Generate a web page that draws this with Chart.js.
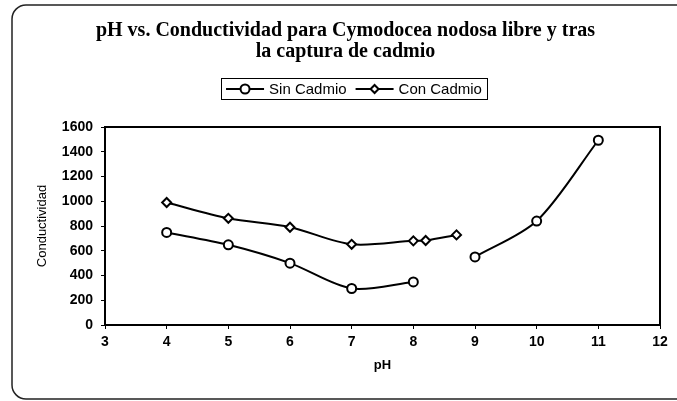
<!DOCTYPE html>
<html><head><meta charset="utf-8">
<script src="https://cdn.jsdelivr.net/npm/chart.js@4"></script>
<style>html,body{margin:0;padding:0;background:#fff}</style>
</head><body>
<canvas id="c" width="677" height="401" style="display:block;width:677px;height:401px"></canvas>
<script>
// ---- data ----
const titleLines = ["pH vs. Conductividad para Cymodocea nodosa libre y tras", "la captura de cadmio"];
const seriesNames = ["Sin Cadmio", "Con Cadmio"];
const sinPH   = [4, 5, 6, 7, 8, 8.5, 9, 10, 11];
const sinCond = [748, 648, 500, 295, 348, null, 550, 840, 1493];
const conPH   = [4, 5, 6, 7, 8, 8.2, 8.7];
const conCond = [990, 862, 790, 652, 680, 683, 728];
const xAxisTitle = "pH";
const yAxisTitle = "Conductividad";
const xRange = [3, 12];
const yRange = [0, 1600];
const yStep = 200;

const toPts = (xs, ys) => xs.map((x, i) => ({x: x, y: ys[i]}));

const framePlugin = {
  id: 'frame',
  beforeDraw(chart) {
    const ctx = chart.ctx;
    ctx.save();
    ctx.fillStyle = '#fff';
    ctx.fillRect(0, 0, chart.width, chart.height);
    ctx.strokeStyle = '#222';
    ctx.lineWidth = 1.5;
    const x = 12, y = 5, w = 690, h = 394, r = 14;
    ctx.beginPath();
    ctx.moveTo(x + r, y);
    ctx.lineTo(x + w - r, y);
    ctx.arcTo(x + w, y, x + w, y + r, r);
    ctx.lineTo(x + w, y + h - r);
    ctx.arcTo(x + w, y + h, x + w - r, y + h, r);
    ctx.lineTo(x + r, y + h);
    ctx.arcTo(x, y + h, x, y + h - r, r);
    ctx.lineTo(x, y + r);
    ctx.arcTo(x, y, x + r, y, r);
    ctx.closePath();
    ctx.stroke();
    ctx.restore();
  },
  beforeDatasetsDraw(chart) {
    const a = chart.chartArea, ctx = chart.ctx;
    ctx.save();
    ctx.strokeStyle = '#000';
    ctx.lineWidth = 2;
    ctx.strokeRect(a.left, a.top, a.right - a.left, a.bottom - a.top);
    ctx.restore();
  }
};

const legendPlugin = {
  id: 'customLegend',
  afterDraw(chart) {
    const ctx = chart.ctx;
    ctx.save();
    ctx.font = '15px "Liberation Sans", Arial, sans-serif';
    ctx.textBaseline = 'middle';
    const seg = 38, gap = 5, itemGap = 9, pad = 5;
    const widths = chart.data.datasets.map(d => ctx.measureText(d.label).width);
    let total = pad * 2;
    widths.forEach((w, i) => { total += seg + gap + w + (i ? itemGap : 0); });
    const cx = 354, top = 78, h = 21;
    const left = cx - total / 2;
    ctx.strokeStyle = '#000';
    ctx.lineWidth = 1;
    ctx.strokeRect(Math.round(left) + 0.5, top + 0.5, Math.round(total), h);
    let x = left + pad;
    const my = top + h / 2 + 0.5;
    chart.data.datasets.forEach((d, i) => {
      if (i) x += itemGap;
      ctx.strokeStyle = '#000';
      ctx.lineWidth = 2;
      ctx.beginPath(); ctx.moveTo(x, my); ctx.lineTo(x + seg, my); ctx.stroke();
      const mx = x + seg / 2;
      ctx.fillStyle = '#fff';
      ctx.beginPath();
      if (d.pointStyle === 'rectRot') {
        const r = 4;
        ctx.moveTo(mx, my - r); ctx.lineTo(mx + r, my); ctx.lineTo(mx, my + r); ctx.lineTo(mx - r, my); ctx.closePath();
      } else {
        ctx.arc(mx, my, 4.5, 0, Math.PI * 2);
      }
      ctx.fill(); ctx.stroke();
      x += seg + gap;
      ctx.fillStyle = '#000';
      ctx.fillText(d.label, x, my + 1);
      x += widths[i];
    });
    ctx.restore();
  }
};

const tickFont = {family: '"Liberation Sans", Arial, sans-serif', size: 14, weight: 'bold'};

new Chart(document.getElementById('c'), {
  type: 'line',
  data: {
    datasets: [
      {
        label: seriesNames[0],
        data: toPts(sinPH, sinCond),
        borderColor: '#000', borderWidth: 2,
        pointStyle: 'circle', pointRadius: 4.5, pointBorderWidth: 2,
        pointBackgroundColor: '#fff', pointBorderColor: '#000',
        tension: 0.3, spanGaps: false, fill: false
      },
      {
        label: seriesNames[1],
        data: toPts(conPH, conCond),
        borderColor: '#000', borderWidth: 2,
        pointStyle: 'rectRot', pointRadius: 4.5, pointBorderWidth: 2,
        pointBackgroundColor: '#fff', pointBorderColor: '#000',
        tension: 0.3, fill: false
      }
    ]
  },
  options: {
    responsive: false,
    animation: false,
    devicePixelRatio: 1,
    layout: {padding: {left: 31, right: 17, top: 10, bottom: 26}},
    plugins: {
      legend: {display: false},
      tooltip: {enabled: false},
      title: {
        display: true,
        text: titleLines,
        color: '#000',
        font: {family: '"Liberation Serif", "Times New Roman", serif', size: 20, weight: 'bold', lineHeight: 1.05},
        padding: {top: 10, bottom: 65}
      }
    },
    scales: {
      x: {
        type: 'linear',
        min: xRange[0], max: xRange[1],
        ticks: {stepSize: 1, color: '#000', font: tickFont, padding: 5, callback: v => String(v)},
        grid: {display: true, drawOnChartArea: false, drawTicks: true, tickLength: 4, color: '#000'},
        border: {display: true, color: '#000', width: 2},
        title: {display: true, text: xAxisTitle, color: '#000',
          font: {family: '"Liberation Sans", Arial, sans-serif', size: 13, weight: 'bold'},
          padding: {top: 0, bottom: 2}},
        afterFit(s) { s.height = 50; }
      },
      y: {
        min: yRange[0], max: yRange[1],
        ticks: {stepSize: yStep, color: '#000', font: tickFont, padding: 8, callback: v => String(v)},
        grid: {display: true, drawOnChartArea: false, drawTicks: true, tickLength: 4, color: '#000'},
        border: {display: true, color: '#000', width: 2},
        title: {display: true, text: yAxisTitle, color: '#000',
          font: {family: '"Liberation Sans", Arial, sans-serif', size: 13},
          padding: {top: 4, bottom: 0}},
        afterFit(s) { s.width = 74; }
      }
    }
  },
  plugins: [framePlugin, legendPlugin]
});
</script>
</body></html>
